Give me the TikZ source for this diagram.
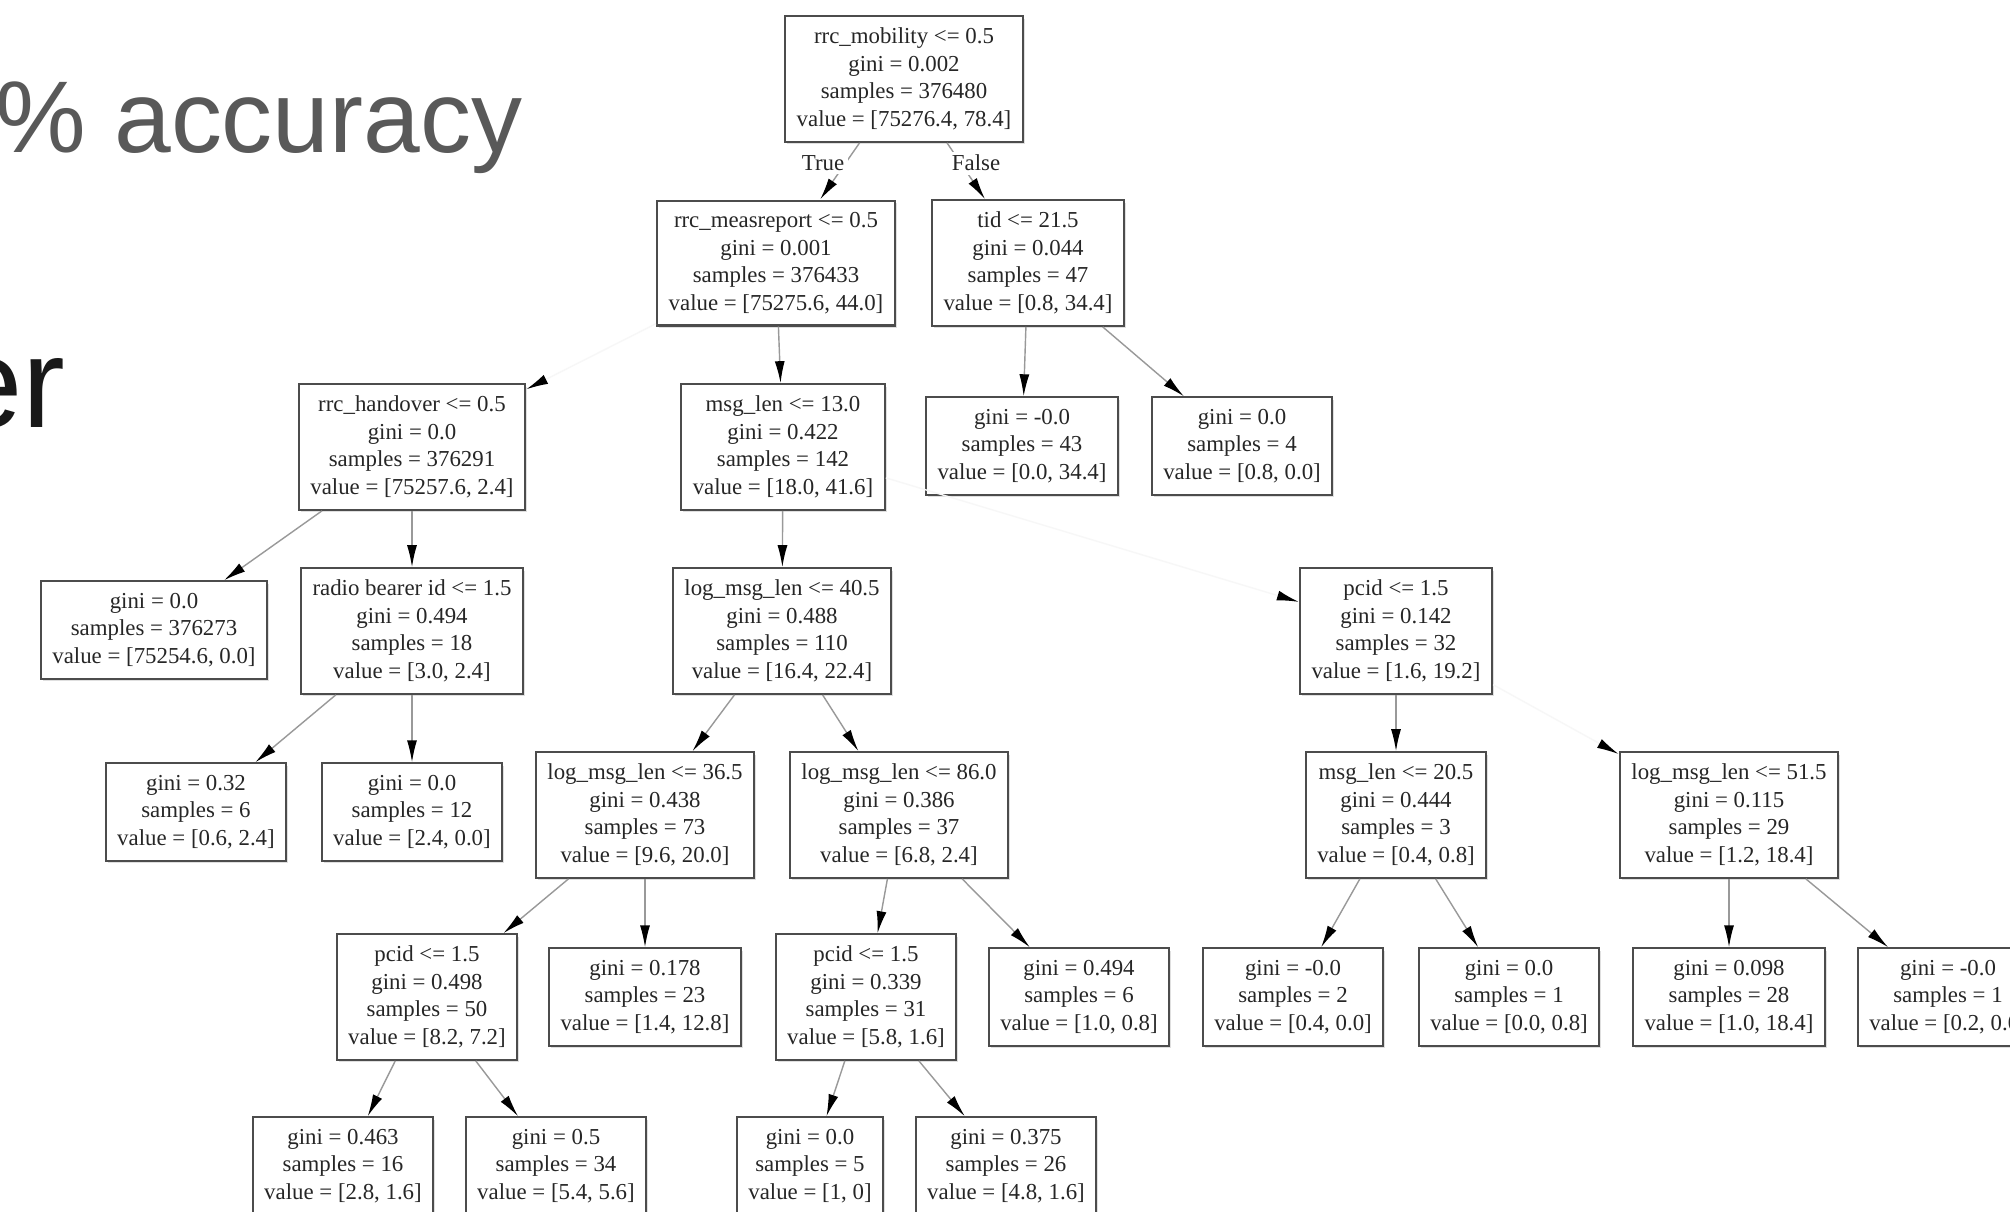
\documentclass[tikz,border=0pt]{standalone}
\usepackage{fontspec}
\setmainfont{Liberation Serif}
\newfontfamily\slidefont{Liberation Sans}
\usetikzlibrary{arrows.meta, positioning, shadows}

\begin{document}
\begin{tikzpicture}[x=0.1mm, y=-0.1mm,
 font=\fontsize{6.5}{7.85}\selectfont,
 split node/.style={rectangle, draw=black!70, line width=0.6pt, fill=white,
   align=center, inner xsep=3.3pt, minimum height=12.3mm, text=black!85,
   drop shadow={shadow xshift=0.2mm, shadow yshift=-0.25mm, opacity=0.25}},
 leaf node/.style={split node, minimum height=9.7mm},
 tree edge/.style={draw=black!40, line width=0.4pt,
   -{Latex[length=2.2mm, width=1mm, color=black]}},
 lost edge/.style={tree edge, draw=black!3},
 branch label/.style={fill=white, inner sep=1pt, text=black!85}]
 \useasboundingbox (0,0) rectangle (2010,1211);
 \clip (0,0) rectangle (2010,1211);
 \fill[white] (0,0) rectangle (2010,1211);

 \node[anchor=base east, inner sep=0, text=black!65,
   font=\slidefont\fontsize{29}{34}\selectfont] (acc) at (523,152) {\% accuracy};
 \node[anchor=base east, inner sep=0, text=black!90,
   font=\slidefont\fontsize{36.5}{42}\selectfont] (er) at (66,427) {er};

 \node[split node] (root) at (904,79) {rrc\_mobility <= 0.5\\gini = 0.002\\samples = 376480\\value = [75276.4, 78.4]};
 \node[split node] (measrep) at (776,263) {rrc\_measreport <= 0.5\\gini = 0.001\\samples = 376433\\value = [75275.6, 44.0]};
 \node[split node] (tid) at (1028,263) {tid <= 21.5\\gini = 0.044\\samples = 47\\value = [0.8, 34.4]};
 \node[split node] (handover) at (412,447) {rrc\_handover <= 0.5\\gini = 0.0\\samples = 376291\\value = [75257.6, 2.4]};
 \node[split node] (msglen) at (783,447) {msg\_len <= 13.0\\gini = 0.422\\samples = 142\\value = [18.0, 41.6]};
 \node[leaf node] (tidL) at (1022,446) {gini = -0.0\\samples = 43\\value = [0.0, 34.4]};
 \node[leaf node] (tidR) at (1242,446) {gini = 0.0\\samples = 4\\value = [0.8, 0.0]};

 \node[leaf node] (hoL) at (154,630) {gini = 0.0\\samples = 376273\\value = [75254.6, 0.0]};
 \node[split node] (bearer) at (412,631) {radio bearer id <= 1.5\\gini = 0.494\\samples = 18\\value = [3.0, 2.4]};
 \node[split node] (logA) at (782,631) {log\_msg\_len <= 40.5\\gini = 0.488\\samples = 110\\value = [16.4, 22.4]};
 \node[split node] (pcidA) at (1396,631) {pcid <= 1.5\\gini = 0.142\\samples = 32\\value = [1.6, 19.2]};

 \node[leaf node] (bearerL) at (196,812) {gini = 0.32\\samples = 6\\value = [0.6, 2.4]};
 \node[leaf node] (bearerR) at (412,812) {gini = 0.0\\samples = 12\\value = [2.4, 0.0]};
 \node[split node] (logB) at (645,815) {log\_msg\_len <= 36.5\\gini = 0.438\\samples = 73\\value = [9.6, 20.0]};
 \node[split node] (logC) at (899,815) {log\_msg\_len <= 86.0\\gini = 0.386\\samples = 37\\value = [6.8, 2.4]};
 \node[split node] (msglenB) at (1396,815) {msg\_len <= 20.5\\gini = 0.444\\samples = 3\\value = [0.4, 0.8]};
 \node[split node] (logD) at (1729,815) {log\_msg\_len <= 51.5\\gini = 0.115\\samples = 29\\value = [1.2, 18.4]};

 \node[split node] (pcidB) at (427,997) {pcid <= 1.5\\gini = 0.498\\samples = 50\\value = [8.2, 7.2]};
 \node[leaf node] (logBR) at (645,997) {gini = 0.178\\samples = 23\\value = [1.4, 12.8]};
 \node[split node] (pcidC) at (866,997) {pcid <= 1.5\\gini = 0.339\\samples = 31\\value = [5.8, 1.6]};
 \node[leaf node] (logCR) at (1079,997) {gini = 0.494\\samples = 6\\value = [1.0, 0.8]};
 \node[leaf node] (msglenBL) at (1293,997) {gini = -0.0\\samples = 2\\value = [0.4, 0.0]};
 \node[leaf node] (msglenBR) at (1509,997) {gini = 0.0\\samples = 1\\value = [0.0, 0.8]};
 \node[leaf node] (logDL) at (1729,997) {gini = 0.098\\samples = 28\\value = [1.0, 18.4]};
 \node[leaf node] (logDR) at (1948,997) {gini = -0.0\\samples = 1\\value = [0.2, 0.0]};

 \node[leaf node] (pcidBL) at (343,1166) {gini = 0.463\\samples = 16\\value = [2.8, 1.6]};
 \node[leaf node] (pcidBR) at (556,1166) {gini = 0.5\\samples = 34\\value = [5.4, 5.6]};
 \node[leaf node] (pcidCL) at (810,1166) {gini = 0.0\\samples = 5\\value = [1, 0]};
 \node[leaf node] (pcidCR) at (1006,1166) {gini = 0.375\\samples = 26\\value = [4.8, 1.6]};

 \path[tree edge] (root) edge node[branch label, pos=0.36, anchor=east, xshift=0.3mm]{True} (measrep);
 \path[tree edge] (root) edge node[branch label, pos=0.36, anchor=west, xshift=-1.3mm]{False} (tid);
 \foreach \s/\t in {measrep/msglen, tid/tidL, tid/tidR, handover/hoL, handover/bearer,
     bearer/bearerL, bearer/bearerR, msglen/logA, logA/logB, logA/logC, pcidA/msglenB,
     logB/pcidB, logB/logBR, logC/pcidC, logC/logCR, pcidB/pcidBL, pcidB/pcidBR,
     pcidC/pcidCL, pcidC/pcidCR, msglenB/msglenBL, msglenB/msglenBR, logD/logDL, logD/logDR}{
    \path[tree edge] (\s) edge (\t);}
 \foreach \s/\t in {measrep/handover, msglen/pcidA, pcidA/logD}{
    \path[lost edge] (\s) edge (\t);}
\end{tikzpicture}
\end{document}
